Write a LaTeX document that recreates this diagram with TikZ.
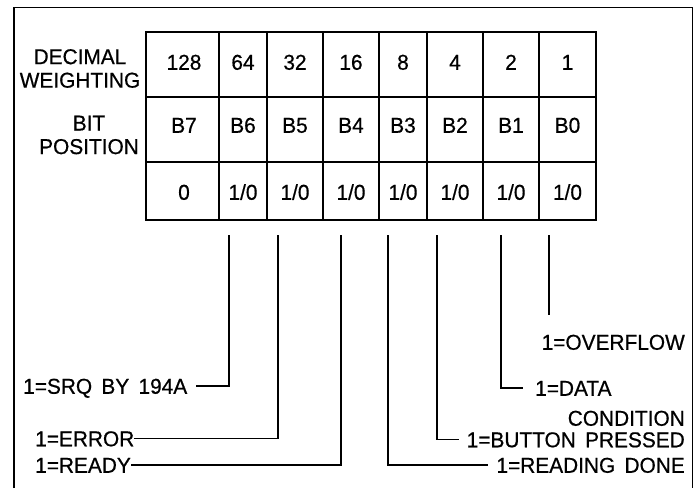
\documentclass[tikz,border=0pt]{standalone}
\usepackage{fontspec}
\setmainfont{Liberation Sans}[FakeBold=0.6, FakeStretch=0.97, WordSpace=1.6]
\newcommand{\onezero}{1/0}

\begin{document}
\begin{tikzpicture}[x=1pt,y=-1pt,
  txt/.style={font=\fontsize{21.5}{23}\selectfont, inner sep=0pt, text height=15.5pt, text depth=0pt},
  head/.style={font=\fontsize{21.5}{23.5}\selectfont, inner sep=0pt, align=center},
  rule/.style={line width=1.5pt},
  lead/.style={line width=1.2pt}]
  \useasboundingbox (0,0) rectangle (699,488);
  \draw[rule] (14,488) -- (14,7.5) -- (692.5,7.5) -- (692.5,488);

  \draw[rule] (146,32) rectangle (596,220);
  \draw[rule] (146,97) -- (596,97) (146,162) -- (596,162);
  \foreach \x in {219,267,323,379,427,483,539}
    \draw[rule] (\x,32) -- (\x,220);

  \node[head] (weighting) at (80,68.5) {DECIMAL\\WEIGHTING};
  \node[head] (position) at (89,135) {BIT\\POSITION};
  \foreach \n/\w/\x in {7/128/184, 6/64/243, 5/32/295, 4/16/351, 3/8/403, 2/4/455, 1/2/511, 0/1/567.5} {
    \node[txt] (w\n) at (\x,62) {\w};
    \node[txt] (p\n) at (\x,125) {B\n};
    \node[txt] (s\n) at (\x,192) {\ifnum\n=7 0\else\onezero\fi};
  }

  \coordinate (c6) at (229,235);
  \coordinate (c5) at (278,235);
  \coordinate (c4) at (341,235);
  \coordinate (c3) at (388,235);
  \coordinate (c2) at (437,235);
  \coordinate (c1) at (501,235);
  \coordinate (c0) at (549,235);

  \node[txt,anchor=west] (srq) at (23,386) {1=SRQ BY 194A};
  \node[txt,anchor=west] (err) at (35,438.5) {1=ERROR};
  \node[txt,anchor=west] (rdy) at (35,465) {1=READY};
  \node[txt,anchor=east] (done) at (685,465) {1=READING DONE};
  \node[txt,anchor=east] (btn) at (685,439.5) {1=BUTTON PRESSED};
  \node[txt,anchor=west] (data) at (535,388) {1=DATA};
  \node[txt,anchor=east] (cond) at (685,418) {CONDITION};
  \node[txt,anchor=east] (ovf) at (685,342) {1=OVERFLOW};

  \draw[lead,shorten >=9pt] (c6) |- (srq.east);
  \draw[lead] (c5) |- (err.east);
  \draw[lead] (c4) |- (rdy.east);
  \draw[lead,shorten >=8pt] (c3) |- (done.west);
  \draw[lead,shorten >=8pt] (c2) |- (btn.west);
  \draw[lead,shorten >=12pt] (c1) |- (data.west);
  \draw[lead,shorten >=19pt] (c0) -- (c0 |- ovf.north);
\end{tikzpicture}
\end{document}
